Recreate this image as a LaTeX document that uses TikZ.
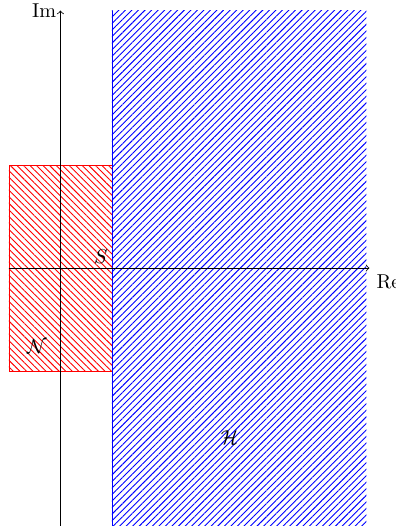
\documentclass[tikz,border=0pt]{standalone}
\usetikzlibrary{patterns.meta}
\begin{document}
\begin{tikzpicture}[x=1.8cm,y=1.8cm,
  axis/.style={->,black},
  redregion/.style={pattern={Lines[angle=-45,distance=2.3pt,line width=0.45pt]},pattern color=red},
  blueregion/.style={pattern={Lines[angle=45,distance=2.3pt,line width=0.45pt]},pattern color=blue}]
\useasboundingbox (-1.087,-2.524) rectangle (2.757,2.602);
\fill[redregion] (-1,-1) rectangle (0,1);
\draw[red] (-1,-1) rectangle (0,1);
\fill[blueregion] (0,-2.5) rectangle (2.47,2.5);
\draw[blue] (0,-2.5) -- (0,2.5);
\coordinate (xs) at (-1,0);
\coordinate (xe) at (2.5,0);
\coordinate (ys) at (-0.5,-2.5);
\coordinate (ye) at (-0.5,2.5);
\draw[axis] (xs) -- (xe) node[below right] {Re};
\draw[axis] (ys) -- (ye) node[left,inner sep=2pt] {Im};
\node[above left,inner sep=2pt] (S) at (0,0) {$S$};
\node (N) at (-0.73,-0.76) {$\mathcal{N}$};
\node (H) at (1.14,-1.65) {$\mathcal{H}$};
\end{tikzpicture}
\end{document}
